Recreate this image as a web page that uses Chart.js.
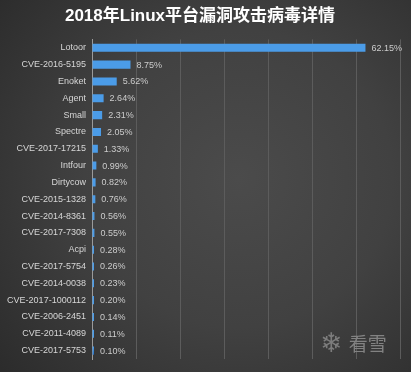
<!DOCTYPE html>
<html lang="zh">
<head>
  <meta charset="UTF-8" />
  <title>2018年Linux平台漏洞攻击病毒详情</title>
  <script src="https://cdn.jsdelivr.net/npm/chart.js"></script>
  <style>
    html, body { margin: 0; padding: 0; }
    body {
      width: 411px; height: 372px; overflow: hidden; position: relative;
      background: radial-gradient(ellipse 75% 80% at 58% 48%, #4b4b4b 0%, #414141 50%, #2c2c2c 100%);
    }
    #wrap { position: absolute; left: 0; top: 0; width: 411px; height: 372px; }
    #mark {
      position: absolute; left: 320px; top: 327px; white-space: nowrap;
      font-family: "DejaVu Sans", "Noto Sans CJK SC", sans-serif;
    }
    #mark .flake { font-size: 27px; color: #7c7c7c; vertical-align: middle; }
    #mark .txt { font-size: 19px; color: #828282; vertical-align: middle; margin-left: 6px; font-family: "Noto Sans CJK SC", sans-serif; }
  </style>
</head>
<body>
  <div id="wrap"><canvas id="chart" width="411" height="372"></canvas></div>
  <div id="mark"><span class="flake">❄</span><span class="txt">看雪</span></div>

  <script>
    // categories and shares (%)
    const names = [
      "Lotoor", "CVE-2016-5195", "Enoket", "Agent", "Small", "Spectre",
      "CVE-2017-17215", "Intfour", "Dirtycow", "CVE-2015-1328", "CVE-2014-8361",
      "CVE-2017-7308", "Acpi", "CVE-2017-5754", "CVE-2014-0038", "CVE-2017-1000112",
      "CVE-2006-2451", "CVE-2011-4089", "CVE-2017-5753"
    ];
    const shares = [62.15, 8.75, 5.62, 2.64, 2.31, 2.05, 1.33, 0.99, 0.82, 0.76,
                    0.56, 0.55, 0.28, 0.26, 0.23, 0.20, 0.14, 0.11, 0.10];

    const font = "'Liberation Sans', 'Noto Sans CJK SC', sans-serif";

    // vertical gradient on every bar, lighter on top
    const barShade = {
      id: "barShade",
      beforeDatasetsDraw(chart) {
        const c = chart.ctx;
        chart.getDatasetMeta(0).data.forEach(bar => {
          const top = bar.y - bar.height / 2;
          const g = c.createLinearGradient(0, top, 0, top + bar.height);
          g.addColorStop(0, "#4b9ce8");
          g.addColorStop(1, "#2c72c0");
          bar.options.backgroundColor = g;
        });
      }
    };

    // draws "xx.xx%" after each bar
    const valueLabels = {
      id: "valueLabels",
      afterDatasetsDraw(chart) {
        const c = chart.ctx;
        const meta = chart.getDatasetMeta(0);
        c.save();
        c.font = "9px " + font;
        c.fillStyle = "#cccccc";
        c.textBaseline = "middle";
        meta.data.forEach((bar, i) => {
          c.fillText(shares[i].toFixed(2) + "%", bar.x + 6, bar.y + 0.5);
        });
        c.restore();
      }
    };

    new Chart(document.getElementById("chart"), {
      type: "bar",
      data: {
        labels: names,
        datasets: [{
          data: shares,
          backgroundColor: "#3a8bd8",
          borderWidth: 0,
          minBarLength: 2,
          barPercentage: 0.48,
          categoryPercentage: 1
        }]
      },
      options: {
        indexAxis: "y",
        responsive: false,
        animation: false,
        layout: { padding: { top: 0, right: 11, bottom: 13, left: 0 } },
        plugins: {
          legend: { display: false },
          tooltip: { enabled: false },
          title: {
            display: true,
            text: "2018年Linux平台漏洞攻击病毒详情",
            color: "#ffffff",
            font: { family: font, size: 17, weight: "bold" },
            padding: { top: 6, bottom: 13 }
          }
        },
        scales: {
          x: {
            min: 0, max: 70,
            ticks: { display: false, stepSize: 10 },
            grid: { color: "#5c5c5c", lineWidth: 1, drawTicks: false },
            border: { display: false }
          },
          y: {
            afterFit(scale) { scale.width = 92; },
            ticks: { color: "#d6d6d6", font: { family: font, size: 9 }, padding: 6 },
            grid: { display: false, drawTicks: false },
            border: { color: "#9a9a9a", width: 1 }
          }
        }
      },
      plugins: [barShade, valueLabels]
    });
  </script>
</body>
</html>
